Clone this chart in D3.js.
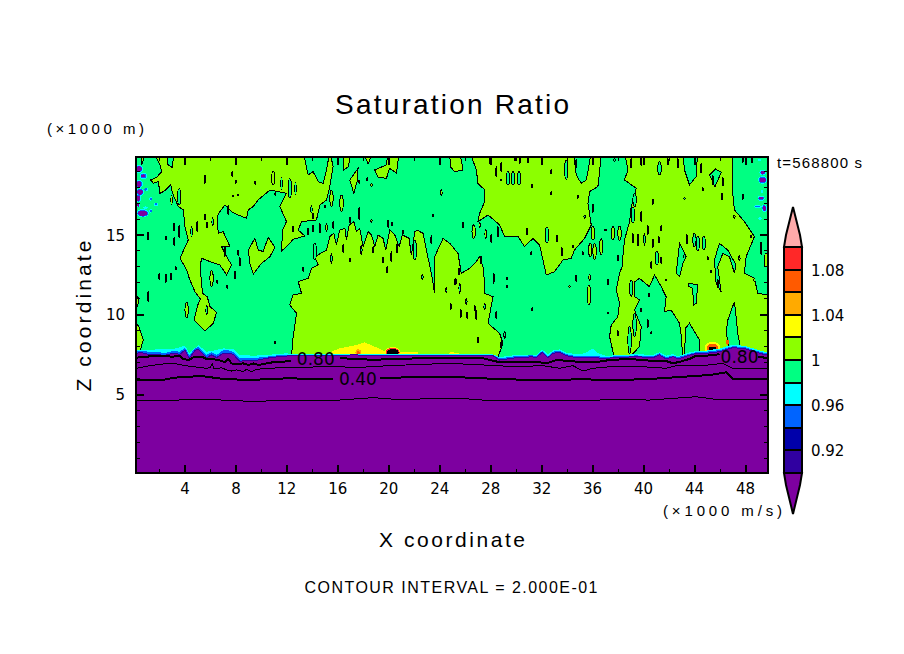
<!DOCTYPE html>
<html><head><meta charset="utf-8">
<style>html,body{margin:0;padding:0;background:#fff}svg{display:block}text{font-family:"DejaVu Sans",sans-serif;fill:#000}</style>
<script src="https://cdn.jsdelivr.net/npm/d3@7"></script></head><body>
<svg id="c" width="904" height="654"></svg>
<script>
const colorLevels=[0.90,0.92,0.94,0.96,0.98,1.00,1.02,1.04,1.06,1.08,1.10];
const colorValues=["#7d00a0","#3000a0","#0000aa","#0064ff","#00ffff","#00ff82","#8cff00","#ffff00","#ffaa00","#ff5a00","#ff2828","#ffaaaa"];
const colorbarTicks=[0.92,0.96,1.00,1.04,1.08];
const colorbarLabels=["0.92","0.96","1","1.04","1.08"];
const xMajor=[4,8,12,16,20,24,28,32,36,40,44,48];
const xMinor=[2,6,10,14,18,22,26,30,34,38,42,46];
const zMajor=[5,10,15];
const zMinor=[1,2,3,4,6,7,8,9,11,12,13,14,16,17,18,19];

const limeUpperLeft=[[1.72,19.84],[2.04,19.36],[2.17,18.94],[1.78,18.59],[1.31,18.42],[1.52,18.21],[1.91,18.31],[2.04,17.58],[2.43,17.75],[2.88,18.11],[3.03,17.58],[3.48,16.75],[3.87,16.54],[4.0,15.49],[4.26,14.66],[3.61,13.51],[4.13,12.78],[4.34,12.25],[4.78,11.42],[5.23,10.94],[5.05,10.69],[4.71,9.64],[5.57,8.95],[6.22,9.43],[6.48,10.12],[5.96,10.48],[5.75,11.10],[5.38,11.31],[5.18,12.98],[5.31,13.51],[5.96,13.30],[6.74,13.09],[7.27,12.46],[7.66,13.09],[7.27,13.61],[6.87,14.24],[7.53,14.24],[7.0,15.18],[6.61,15.07],[6.53,16.12],[6.74,16.43],[7.14,16.85],[7.66,16.43],[8.18,16.22],[8.84,16.02],[8.97,16.54],[9.36,16.75],[9.75,17.17],[10.67,17.79],[11.97,17.58],[11.45,16.75],[11.97,15.81],[11.66,15.28],[11.58,13.97],[11.97,14.24],[12.50,14.70],[13.41,14.91],[12.89,15.28],[13.15,15.81],[14.32,15.91],[14.59,16.85],[15.11,17.17],[15.37,18.0],[15.63,19.26],[15.37,20.2],[15.11,19.05],[14.85,18.21],[14.46,18.31],[14.06,18.94],[13.67,18.73],[13.28,20.2],[1.72,20.2]];
const limeArm=[[8.97,14.03],[9.49,14.76],[9.75,14.03],[10.14,13.93],[10.53,14.82],[11.06,14.20],[10.67,13.61],[10.01,13.19],[9.36,12.52],[9.10,13.19]];
const limeDome=[[12.36,7.3],[12.49,8.60],[12.76,10.06],[12.23,10.58],[12.49,11.21],[13.15,11.31],[12.89,12.04],[13.67,12.25],[13.93,12.88],[14.46,13.09],[14.19,13.61],[15.11,14.03],[15.37,14.87],[15.68,15.08],[15.89,14.34],[16.15,15.28],[16.55,15.39],[16.68,14.66],[16.89,15.6],[17.25,15.81],[17.46,15.18],[17.72,15.39],[17.98,14.24],[18.38,15.18],[18.64,14.97],[18.9,14.24],[19.16,14.97],[19.55,14.76],[19.76,14.03],[20.08,15.28],[20.47,14.97],[20.81,14.24],[21.07,14.97],[21.59,14.76],[21.77,13.69],[22.04,15.18],[22.22,15.28],[22.69,15.07],[22.95,14.03],[23.34,12.57],[23.60,11.31],[23.60,13.61],[24.26,14.76],[24.78,14.45],[25.43,13.82],[25.69,12.57],[26.35,12.88],[26.87,13.30],[27.13,13.61],[27.39,12.98],[27.53,11.94],[27.53,11.31],[28.18,11.10],[27.79,9.43],[28.70,8.80],[28.96,8.18],[28.57,7.3]];
const limeTopCentre=[[26.35,20.2],[26.87,19.05],[27.0,18.21],[27.53,17.79],[27.53,17.06],[27.13,16.33],[27.0,15.81],[27.79,16.22],[28.70,15.60],[29.09,14.87],[30.14,14.87],[30.66,14.24],[31.32,14.76],[31.84,14.34],[32.36,12.46],[33.01,12.67],[33.67,13.40],[34.32,13.51],[34.58,14.03],[35.37,14.76],[35.89,15.60],[35.63,16.96],[35.76,17.69],[36.41,18.0],[36.54,18.84],[36.67,20.2]];
const limeRight=[[38.5,20.2],[38.77,19.05],[38.5,18.42],[39.42,17.90],[39.03,16.75],[38.90,15.81],[38.5,14.66],[38.37,13.61],[38.37,13.09],[38.11,12.57],[37.85,11.52],[38.11,10.69],[37.98,9.85],[37.46,9.33],[37.33,8.60],[37.72,7.2],[38.77,7.2],[39.68,7.97],[39.81,9.22],[39.29,10.27],[39.68,10.89],[39.32,11.10],[39.32,12.04],[39.68,12.25],[40.46,11.73],[40.86,12.46],[41.38,11.73],[41.77,11.10],[41.64,10.16],[42.16,10.27],[42.82,9.43],[42.95,8.70],[43.08,7.2],[43.21,7.2],[43.29,9.12],[43.60,9.43],[44.39,8.39],[44.39,7.2],[50.5,7.2],[50.5,11.10],[48.96,11.31],[48.70,12.25],[47.91,12.57],[48.05,13.61],[48.70,14.87],[47.91,15.81],[47.13,16.54],[47.0,17.58],[47.0,20.2]];
const limeLobes=[
 [[16.42,20.2],[17.07,20.2],[16.81,19.25],[16.42,19.0]],
 [[16.94,18.42],[17.59,19.15],[17.51,18.31],[17.25,17.58]],
 [[17.98,20.2],[18.77,20.2],[18.38,19.42]],
 [[18.90,19.05],[19.81,19.36],[19.94,20.2],[20.81,20.2],[20.60,18.84],[20.07,19.15],[19.81,18.52],[19.16,18.59]],
 [[24.78,20.2],[25.56,20.2],[25.83,19.05],[25.17,18.94],[24.83,19.25]],
 [[0.55,20.2],[0.95,20.2],[0.6,19.35]],
 [[-0.3,9.54],[0.1,9.54],[0.4,9.2],[0.73,8.39],[0.5,7.76],[0.1,7.4],[-0.3,7.4]],
 [[-0.3,11.3],[0.1,11.3],[0.36,11.0],[0.3,10.5],[0.1,10.35],[-0.3,10.35]]
];
const greenNotches=[
 [[47.13,10.79],[46.61,9.64],[46.48,8.80],[46.79,7.7],[47.65,7.7],[47.39,8.80],[47.26,9.85]],
 [[43.55,11.94],[44.25,11.84],[44.12,10.69],[43.91,10.58],[43.86,11.63],[43.55,11.73]],
 [[43.08,20.2],[43.21,19.05],[43.6,18.11],[44.12,18.63],[44.25,20.2]],
 [[45.17,18.74],[45.6,18.0],[46.1,18.9],[45.65,19.1]],
 [[45.56,13.40],[45.95,14.45],[46.6,14.03],[47.26,13.09],[47.13,12.57],[46.74,13.61],[46.22,13.82],[45.82,12.98],[46.08,11.42],[45.69,11.94]],
 [[42.56,12.57],[42.82,14.45],[43.34,13.61],[43.08,13.19],[42.82,12.36]],
 [[34.5,20.2],[34.71,18.73],[35.1,18.21],[35.5,18.42],[35.7,19.25],[35.89,20.2]],
 [[2.6,20.2],[2.62,19.4],[3.0,19.2],[3.15,20.2]]
];
const closedOnGreen=[[1.12,11.10,.31],[1.99,12.36,.17],[2.51,12.25,.25],[2.90,12.36,.21],[3.27,12.88,.1],[6.09,12.25,.5],[6.53,12.04,.1],[7.32,11.73,.1],[1.12,14.91,.25],[2.51,14.76,.12],[3.14,15.49,.25],[3.16,14.55,.25],[3.55,15.18,.38],[4.13,10.27,.5],[2.95,17.16,.3],[8.31,13.30,.25],[8.18,13.86,.17],[7.95,12.46,.25],[11.1,17.54,.07],[7.71,18.8,.15],[8.0,18.31,.1],[9.52,18.25,.1],[8.18,17.48,.06],[7.79,17.42,.06],[10.93,18.52,.42],[17.67,18.31,.1],[18.3,18.46,.1],[18.64,18.11,.1],[24.13,17.62,.21],[23.47,16.22,.08],[17.67,16.33,.38],[16.94,15.91,.17],[18.64,15.87,.1],[19.94,15.66,.21],[20.26,15.66,.1],[21.12,15.18,.12],[14.59,15.39,.31],[15.11,15.45,.25],[15.63,15.6,.21],[16.29,16.96,.5],[15.5,17.27,.5],[11.06,8.22,.06],[25.83,15.6,.17],[26.66,15.18,.42],[27.13,15.6,.17],[27.6,15.03,.31],[28.05,14.76,.25],[28.57,15.18,.31],[28.23,12.25,.3],[29.28,12.25,.06],[29.28,11.73,.06],[31.26,10.31,.1],[34.19,11.73,.06],[34.71,12.25,.2],[35.76,12.32,.2],[35.71,11.21,.6],[33.59,13.93,.25],[34.45,14.24,.1],[35.24,13.82,.1],[35.81,14.03,.42],[36.15,13.93,.5],[36.67,14.24,.5],[36.02,15.08,.42],[37.01,15.28,.06],[37.59,15.08,.42],[38.11,15.08,.45],[37.98,13.51,.17],[37.2,12.04,.17],[37.2,10.06,.05],[40.6,8.85,.05],[40.33,9.43,.25],[40.41,11.21,.1],[41.77,12.15,.06],[47.78,17.37,.17],[47.13,16.12,.1],[48.44,14.87,.1],[49.22,14.13,.38],[49.61,13.4,.42],[48.7,12.15,.1],[47.52,13.51,.17]];
const closedOnLime=[[3.55,17.37,.5],[5.70,10.27,.31],[4.52,15.18,.31],[4.97,15.49,.31],[5.57,16.12,.17],[5.75,15.6,.17],[6.17,15.81,.25],[5.57,18.46,.25],[7.40,16.54,.3],[7.13,13.93,.3],[11.58,18.21,.38],[12.23,17.9,.6],[12.68,17.9,.38],[13.93,16.58,.21],[14.06,16.16,.17],[14.98,16.75,.1],[12.49,15.35,.17],[13.67,15.18,.21],[14.06,15.39,.21],[14.19,13.93,.5],[15.5,13.51,.3],[16.42,14.13,.25],[16.94,13.4,.1],[17.85,14.03,.3],[18.77,14.03,.2],[19.55,13.4,.2],[19.87,12.78,.2],[20.2,13.61,.3],[20.65,14.13,.3],[22.04,14.03,.6],[23.34,14.66,.25],[22.64,12.32,.17],[24.52,11.52,.17],[25.25,12.04,.2],[24.86,10.48,.17],[25.51,12.67,.2],[13.28,12.82,.12],[25.56,11.63,.31],[25.17,12.04,.17],[26.09,10.79,.17],[26.14,9.95,.2],[25.64,10.06,.25],[26.74,10.37,.17],[27.0,8.39,.17],[27.26,13.4,.25],[26.87,9.95,.3],[27.52,10.48,.17],[29.09,8.7,.25],[28.83,8.07,.2],[28.44,9.95,.2],[29.35,18.52,.42],[29.75,18.52,.42],[30.22,18.52,.42],[28.83,18.42,.06],[31.26,18.04,.1],[32.75,18.94,.12],[32.75,17.58,.1],[34.84,17.37,.1],[30.84,15.18,.21],[32.41,14.97,.5],[33.2,14.76,.2],[31.18,13.82,.1],[36.02,16.64,.25],[35.37,16.12,.1],[39.16,16.22,.5],[39.81,16.12,.31],[39.29,17.17,.42],[40.73,17.06,.17],[39.16,14.76,.3],[39.55,14.66,.38],[40.07,14.7,.38],[40.33,15.28,.3],[40.73,14.45,.25],[41.2,14.66,.2],[41.38,15.39,.17],[41.04,13.51,.42],[41.38,13.4,.2],[40.6,13.09,.2],[43.21,13.61,.17],[44.25,14.45,.46],[44.72,14.45,.42],[43.39,14.7,.3],[43.99,14.66,.42],[45.04,13.51,.1],[45.3,12.67,.06],[45.82,11.94,.25],[46.16,17.37,.2],[44.65,17.83,.1],[43.21,17.27,.05],[38.9,8.39,.84],[39.29,9.33,.73],[39.81,10.27,.1],[39.03,11.63,.5],[37.98,8.8,.17],[27.92,19.67,.25],[28.83,19.25,.3],[28.44,18.94,.3],[29.88,19.71,.1],[30.27,19.67,.2],[30.92,19.67,.17],[33.93,19.05,.6],[34.71,19.46,.25],[37.72,19.67,.1],[39.03,19.46,.3],[39.81,19.57,.25],[41.25,19.15,.42],[41.9,19.57,.2],[42.69,19.46,.3],[44.52,19.15,.3],[45.43,18.42,.3],[46.22,18.31,.25],[47.78,19.67,.17],[48.51,19.67,.17]];

const yellowPatches=[
 [[15.5,7.3],[15.5,7.66],[16.15,7.86],[17.46,8.07],[18.11,8.24],[18.9,7.97],[19.68,7.66],[20.86,7.61],[22.29,7.61],[22.42,7.3]],
 [[24.5,7.3],[24.8,7.62],[25.5,7.58],[25.7,7.3]]
];
// [x, z, half width, half height, value]
const hotSpots=[[20.3,7.6,.62,.34,1.03],[20.3,7.6,.55,.29,1.09],[20.3,7.62,.48,.2,0.9],[17.6,7.6,.22,.2,1.05],[17.6,7.58,.12,.12,1.07],[45.4,7.88,.62,.4,1.03],[45.4,7.88,.45,.28,1.07],[45.4,7.85,.3,.12,0.9],[46.6,8.24,.12,.16,1.07]];
const edgeBlobs=[[.39,19.11,.3,.26,.97],[.39,18.17,.3,.26,.97],[.47,17.65,.3,.24,.97],[.34,17.27,.2,.26,.97],[.68,16.33,.48,.26,.97],[.34,16.85,.18,.16,.97],[.73,18.67,.28,.2,.97],[1.0,17.83,.14,.12,.97],[1.33,17.23,.13,.11,.97],[1.73,16.89,.15,.12,.97],[1.31,16.48,.13,.11,.97],[.91,16.68,.18,.08,.97],[49.35,18.42,.36,.24,.97],[49.35,18.88,.26,.18,.97],[49.22,17.27,.28,.15,.97],[49.48,16.64,.22,.24,.97],[48.96,16.75,.3,.08,.97],[49.14,16.0,.14,.08,.97],[49.3,17.7,.1,.08,.97],[49.09,19.67,.14,.08,.97],
 [.39,19.11,.26,.21,.95],[.39,18.17,.24,.21,.95],[.47,17.65,.26,.19,.95],[.34,17.27,.16,.21,.95],[.68,16.33,.42,.21,.95],[.73,18.67,.22,.15,.95],[.91,17.83,.1,.08,.95],[1.33,17.23,.08,.07,.95],[1.73,16.89,.1,.08,.95],[1.31,16.48,.08,.07,.95],[49.35,18.42,.3,.19,.95],[49.35,18.88,.2,.13,.95],[49.22,17.27,.22,.11,.95],[49.48,16.64,.16,.19,.95],[48.96,16.75,.2,.05,.95],
 [.39,19.11,.21,.17,.89],[.39,18.17,.18,.17,.89],[.47,17.65,.21,.15,.89],[.34,17.27,.12,.17,.89],[.68,16.33,.34,.17,.89],[.34,16.85,.1,.1,.89],[.73,18.67,.16,.1,.89],[49.35,18.42,.25,.15,.89],[49.35,18.88,.15,.1,.89],[49.22,17.27,.18,.08,.89],[49.48,16.64,.12,.15,.89]
];
const cyanTop=[[0,7.76],[.21,7.76],[3.08,7.82],[4.0,8.03],[4.34,7.55],[5.04,8.07],[5.70,7.65],[6.48,7.76],[7.0,7.86],[7.79,7.82],[8.31,7.45],[9.36,7.40],[10.40,7.45],[11.97,7.55],[12.5,7.5],[28.18,7.48],[28.70,7.32],[30,7.45],[31.58,7.45],[32.05,7.78],[32.49,7.50],[32.88,7.72],[33.41,7.80],[33.93,7.60],[34.71,7.50],[35.37,7.55],[36.02,7.86],[36.41,7.55],[37.07,7.40],[37.72,7.42],[39.42,7.50],[40.73,7.45],[41.25,7.62],[41.77,7.40],[42.30,7.50],[42.69,7.38],[43.47,7.58],[44.13,7.70],[44.91,7.72],[45.96,7.85],[47,8.1],[48.05,8.0],[48.83,7.8],[49.62,7.62],[50,7.6]];
const blueTop=[[0,7.7],[.21,7.70],[.86,7.70],[1.25,7.61],[1.91,7.65],[2.30,7.55],[3.08,7.70],[3.61,7.65],[4.0,7.91],[4.34,7.40],[4.78,7.86],[5.04,7.95],[5.70,7.45],[6.09,7.61],[6.48,7.45],[7.0,7.74],[7.40,7.74],[7.79,7.65],[8.31,7.24],[8.70,7.28],[9.36,7.24],[9.75,7.28],[10.40,7.34],[11.19,7.42],[11.97,7.45],[28.18,7.46],[28.70,7.24],[29.35,7.30],[30,7.38],[30.66,7.38],[31.18,7.44],[31.58,7.38],[32.05,7.70],[32.49,7.38],[32.88,7.65],[33.41,7.72],[33.93,7.50],[34.71,7.38],[35.76,7.40],[37.07,7.32],[37.72,7.36],[39.42,7.42],[40.73,7.36],[41.25,7.55],[41.77,7.30],[42.30,7.42],[42.69,7.30],[43.47,7.50],[44.13,7.62],[44.91,7.65],[45.96,7.75],[47,8.0],[48.05,7.92],[48.83,7.70],[49.62,7.55],[50,7.5]];
const purpleTop=[[0,7.55],[.21,7.55],[.47,7.61],[.86,7.55],[1.25,7.45],[1.91,7.49],[2.30,7.40],[3.08,7.55],[3.61,7.49],[4.0,7.76],[4.34,7.24],[4.78,7.72],[5.04,7.82],[5.70,7.28],[6.09,7.45],[6.48,7.28],[7.0,7.55],[7.40,7.55],[7.79,7.49],[8.31,7.03],[8.70,7.13],[9.36,7.07],[9.75,7.13],[10.40,7.24],[11.19,7.32],[11.97,7.38],[12.23,7.40],[17.46,7.45],[18.77,7.40],[20.07,7.40],[25.17,7.40],[28.18,7.40],[28.70,7.13],[29.35,7.20],[30.0,7.28],[30.66,7.28],[31.18,7.34],[31.58,7.28],[32.05,7.61],[32.49,7.28],[32.88,7.55],[33.41,7.61],[33.93,7.40],[34.71,7.28],[35.76,7.28],[37.07,7.24],[37.72,7.28],[39.42,7.34],[40.73,7.28],[41.25,7.45],[41.77,7.20],[42.30,7.34],[42.69,7.20],[43.47,7.40],[44.13,7.55],[44.91,7.55],[45.96,7.65],[47.0,7.91],[48.05,7.82],[48.83,7.61],[49.62,7.45],[50,7.4]];

const contour080Left=[[0,7.28],[.21,7.28],[1.0,7.34],[1.78,7.40],[3.08,7.34],[3.61,7.40],[3.87,7.20],[4.26,7.13],[4.78,7.34],[5.31,7.34],[5.70,7.20],[6.09,7.20],[6.61,7.13],[7.14,6.99],[7.40,7.20],[7.66,6.92],[8.05,6.86],[8.57,6.92],[8.97,6.82],[9.36,6.92],[9.75,6.82],[10.40,6.92],[11.19,7.03],[11.71,7.03],[12.36,7.07]];
const contour080Mid=[[16.15,7.24],[17.72,7.20],[18.77,7.13],[20.07,7.20],[21.38,7.20],[22.69,7.28],[24,7.24],[24.78,7.28],[26.35,7.28],[27.39,7.24],[28.70,6.99],[30.27,6.99],[31.58,7.03],[32.36,6.92],[33.14,7.13],[34.19,7.07],[35.24,6.99],[36.54,7.03],[37.33,7.13],[38.90,7.20],[40.73,7.07],[41.77,7.07],[42.30,6.92],[43.08,7.07],[43.60,7.20],[44.13,7.40],[44.91,7.40],[45.96,7.49]];
const contour080Right=[[48.96,7.34],[49.48,7.28],[50,7.2]];
const contour060=[[0,6.61],[.21,6.61],[1.25,6.78],[2.30,6.88],[3.08,6.92],[4.0,6.78],[5.70,6.61],[5.96,6.65],[6.14,6.92],[6.27,6.57],[6.87,6.65],[7.27,6.51],[7.66,6.44],[8.05,6.51],[8.57,6.40],[8.84,6.55],[9.23,6.40],[9.62,6.55],[10.67,6.61],[11.97,6.67],[15.63,6.71],[17.72,6.67],[20.07,6.78],[22.69,6.86],[24.78,6.92],[27.39,6.82],[30.0,6.71],[32.1,6.78],[33.41,6.61],[34.45,6.78],[35.24,6.44],[36.02,6.61],[37.33,6.71],[39.94,6.71],[41.77,6.61],[42.56,6.78],[44.65,6.78],[46.22,6.92],[47.0,6.61],[47.79,6.61],[50,6.61]];
const contour040Left=[[0,5.88],[.21,5.88],[2.30,5.88],[3.08,6.02],[5.31,6.13],[7.0,5.94],[9.10,5.88],[11.97,5.98],[15.63,5.94]];
const contour040Right=[[19.29,5.98],[22.69,6.09],[24.78,6.08],[27.39,5.98],[31.32,5.87],[35.24,5.92],[37.85,5.87],[40.46,5.94],[45.17,6.19],[46.48,6.36],[47.0,5.94],[50,5.92]];
const contour020=[[0,4.62],[.21,4.62],[2.56,4.58],[4.39,4.66],[7.0,4.62],[9.62,4.52],[11.45,4.62],[15.37,4.58],[18.77,4.77],[20.6,4.66],[25.57,4.73],[27.39,4.62],[31.32,4.58],[36.28,4.58],[36.8,4.66],[40.46,4.62],[44.12,4.83],[45.69,4.66],[50,4.66]];
const contourLabels=[{t:"0.80",x:14.27,z:7.2},{t:"0.40",x:17.57,z:5.94},{t:"0.80",x:47.53,z:7.3}];

const svg=d3.select("#c");
const x=d3.scaleLinear().domain([0,50]).range([134,771]);
const z=d3.scaleLinear().domain([0,20]).range([473.75,154.75]);
const color=d3.scaleThreshold().domain(colorLevels).range(colorValues);
const L=136,R=768,T=157,B=473;
svg.append("clipPath").attr("id","plot").append("rect").attr("x",L).attr("y",T).attr("width",R-L).attr("height",B-T);
const g=svg.append("g").attr("clip-path","url(#plot)").attr("shape-rendering","crispEdges");
const line=d3.line().x(d=>x(d[0])).y(d=>z(d[1]));
const closed=d3.line().x(d=>x(d[0])).y(d=>z(d[1])).curve(d3.curveLinearClosed);
g.append("rect").attr("x",L).attr("y",T).attr("width",R-L).attr("height",B-T).attr("fill",color(0.99));
const poly=(arr,val,cls)=>g.selectAll("path."+cls).data(arr).join("path").attr("class",cls).attr("d",closed).attr("fill",color(val)).attr("stroke","#000").attr("stroke-width",1);
poly([limeUpperLeft,limeArm,limeDome,limeTopCentre,limeRight,...limeLobes],1.01,"lime");
poly(greenNotches,0.99,"notch");
const ell=d=>{const rx=Math.abs(x(d[2])-x(0)),ry=Math.abs(z(d[3])-z(0)),cx=x(d[0]),cy=z(d[1]);
 return `M${cx-rx},${cy}A${rx},${ry} 0 1 0 ${cx+rx},${cy}A${rx},${ry} 0 1 0 ${cx-rx},${cy}Z`;};
const speck=(arr,val,cls)=>g.selectAll("path."+cls).data(arr).join("path").attr("class",cls)
 .attr("d",d=>ell([d[0],d[1],d[2]>.4?.13:.05,d[2]])).attr("fill",color(val)).attr("stroke","#000").attr("stroke-width",1);
speck(closedOnGreen,1.01,"sg");
speck(closedOnLime,0.99,"sl");
g.selectAll("path.edge").data(edgeBlobs).join("path").attr("class","edge").attr("d",ell).attr("fill",d=>color(d[4]));
g.selectAll("path.yellow").data(yellowPatches).join("path").attr("class","yellow").attr("d",closed).attr("fill",color(1.03));
g.selectAll("path.hot").data(hotSpots).join("path").attr("class","hot").attr("d",ell).attr("fill",d=>d[4]<1?"#000":color(d[4]));
const area=d3.area().x(d=>x(d[0])).y0(z(0)).y1(d=>z(d[1]));
g.append("path").attr("d",area(cyanTop)).attr("fill",color(0.97));
g.append("path").attr("d",area(blueTop)).attr("fill",color(0.95));
g.append("path").attr("d",area(purpleTop)).attr("fill",color(0.89));
g.append("path").attr("d",line(purpleTop)).attr("fill","none").attr("stroke",color(0.91)).attr("stroke-width",1);
[[contour080Left,2],[contour080Mid,2],[contour080Right,2],[contour060,1],[contour040Left,2],[contour040Right,2],[contour020,1]].forEach(([d,w])=>
 g.append("path").attr("d",line(d)).attr("fill","none").attr("stroke","#000").attr("stroke-width",w));
svg.selectAll("text.cl").data(contourLabels).join("text").attr("class","cl").attr("x",d=>x(d.x)).attr("y",d=>z(d.z)).attr("dy","0.36em")
 .attr("text-anchor","middle").attr("font-size",17).text(d=>d.t);

// axes
const axis=(gen,tx,ty,vals,len)=>{const a=svg.append("g").attr("transform",`translate(${tx},${ty})`).attr("shape-rendering","crispEdges")
 .call(gen.tickValues(vals).tickSize(len).tickFormat(""));a.select(".domain").remove();a.selectAll("line").attr("stroke","#000").attr("stroke-width",len<-5?2:1);a.selectAll("text").remove();};
axis(d3.axisBottom(x),0,B,xMajor,-8);axis(d3.axisBottom(x),0,B,xMinor,-4);
axis(d3.axisTop(x),0,T,xMajor,-8);axis(d3.axisTop(x),0,T,xMinor,-4);
axis(d3.axisLeft(z),L,0,zMajor,-8);axis(d3.axisLeft(z),L,0,zMinor,-4);
axis(d3.axisRight(z),R,0,zMajor,-8);axis(d3.axisRight(z),R,0,zMinor,-4);
svg.append("rect").attr("x",L).attr("y",T).attr("width",R-L).attr("height",B-T).attr("fill","none").attr("stroke","#000").attr("stroke-width",2).attr("shape-rendering","crispEdges");
svg.selectAll("text.xt").data(xMajor).join("text").attr("class","xt").attr("x",d=>x(d)).attr("y",494).attr("text-anchor","middle").attr("font-size",15).text(d=>d);
svg.selectAll("text.zt").data(zMajor).join("text").attr("class","zt").attr("x",125).attr("y",d=>z(d)+6).attr("text-anchor","end").attr("font-size",15).text(d=>d);

// text
const label=(s,px,py,size,len,anchor,rot)=>{const t=svg.append("text").attr("x",px).attr("y",py).attr("font-size",size).attr("text-anchor",anchor||"middle")
 .style("font-family","'Liberation Sans',sans-serif").attr("textLength",len).attr("lengthAdjust","spacing").text(s);if(rot)t.attr("transform",`rotate(${rot} ${px} ${py})`);};
label("Saturation Ratio",452,114,28,234);
label("(×1000 m)",47,134,15,97,"start");
label("t=568800 s",777,168,15,85,"start");
label("(×1000 m/s)",663,516,15,119,"start");
label("X coordinate",452,547,21,146);
label("Z coordinate",91,316,21,151,"middle",-90);
label("CONTOUR INTERVAL = 2.000E-01",451,593,16,293);

// colour bar
const cb=d3.scaleLinear().domain([0.90,1.10]).range([473,247]);
const cg=svg.append("g").attr("shape-rendering","crispEdges");
const cx0=784,cx1=802,cmid=793;
const cells=d3.range(colorLevels.length-1).map(i=>[colorLevels[i],colorLevels[i+1]]);
cg.selectAll("rect").data(cells).join("rect").attr("x",cx0).attr("width",cx1-cx0).attr("y",d=>cb(d[1])).attr("height",d=>cb(d[0])-cb(d[1]))
 .attr("fill",d=>color((d[0]+d[1])/2)).attr("stroke","#000").attr("stroke-width",2);
const tg=svg.append("g");
tg.append("path").attr("d",`M${cx0},${cb(1.10)}L${cx0+2},${cb(1.10)-12}L${cmid},${cb(1.10)-40}L${cx1-2},${cb(1.10)-12}L${cx1},${cb(1.10)}Z`).attr("fill",color(1.11)).attr("stroke","#000").attr("stroke-width",2);
tg.append("path").attr("d",`M${cx0},${cb(0.90)}L${cx0+2},${cb(0.90)+12}L${cmid},${cb(0.90)+41}L${cx1-2},${cb(0.90)+12}L${cx1},${cb(0.90)}Z`).attr("fill",color(0.89)).attr("stroke","#000").attr("stroke-width",2);
svg.selectAll("text.cbt").data(colorbarTicks).join("text").attr("class","cbt").attr("x",811).attr("y",d=>cb(d)+6).attr("font-size",15).text((d,i)=>colorbarLabels[i]);
</script></body></html>
